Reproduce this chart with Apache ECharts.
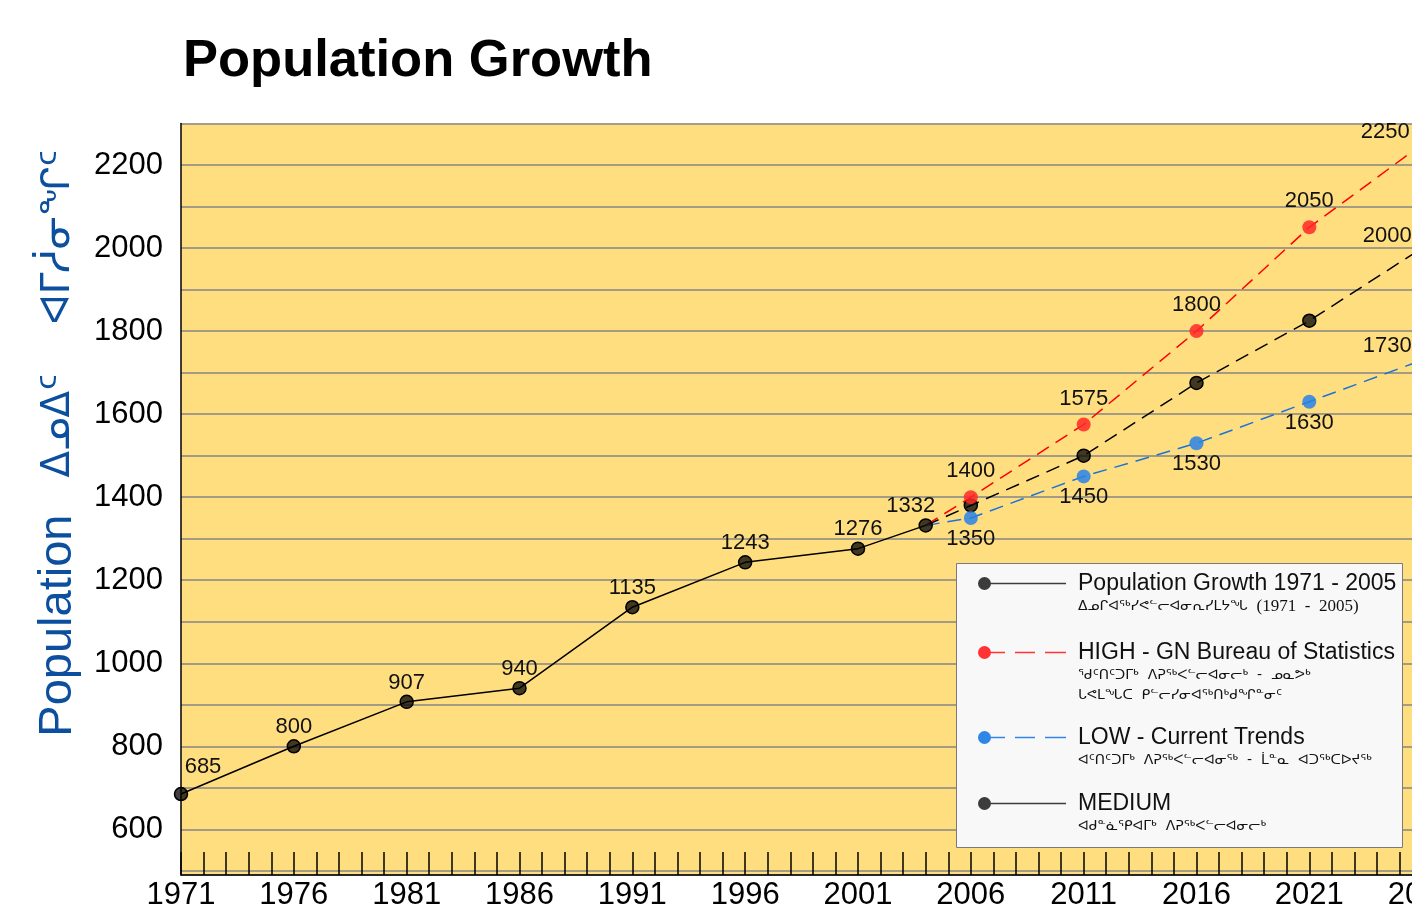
<!DOCTYPE html>
<html>
<head>
<meta charset="utf-8">
<title>Population Growth</title>
<script src="https://cdn.jsdelivr.net/npm/echarts@6/dist/echarts.min.js"></script>
<style>
    html, body { margin: 0; padding: 0; background: #fff; }
    #chart { width: 1412px; height: 921px; }
</style>
</head>
<body>
<div id="chart"></div>
<script>
    // census years + values (1971 - 2004)
    var years = [1971, 1976, 1981, 1986, 1991, 1996, 2001, 2004];
    var population = [685, 800, 907, 940, 1135, 1243, 1276, 1332];

    // projections start from the last census point
    var projYears = [2004, 2006, 2011, 2016, 2021, 2026];
    var highValues = [1332, 1400, 1575, 1800, 2050, 2250];
    var mediumValues = [1332, 1380, 1500, 1675, 1825, 2000];
    var lowValues = [1332, 1350, 1450, 1530, 1630, 1730];

    var seriesNames = [
        'Population Growth 1971 - 2005',
        'HIGH - GN Bureau of Statistics',
        'LOW - Current Trends',
        'MEDIUM'
    ];
    var seriesSubtitles = [
        ['ᐃᓄᒋᐊᖅᓯᕙᓪᓕᐊᓂᕆᓯᒪᔭᖓ  (1971  -  2005)'],
        ['ᖁᑦᑎᑦᑐᒥᒃ  ᐱᕈᖅᐸᓪᓕᐊᓂᓕᒃ  -  ᓄᓇᕗᒃ', 'ᒐᕙᒪᖓᑕ  ᑭᓪᓕᓯᓂᐊᖅᑎᒃᑯᖏᓐᓂᑦ'],
        ['ᐊᑦᑎᑦᑐᒥᒃ  ᐱᕈᖅᐸᓪᓕᐊᓂᖅ  -  ᒫᓐᓇ  ᐊᑐᖅᑕᐅᔪᖅ'],
        ['ᐊᑯᓐᓈᕿᐊᒥᒃ  ᐱᕈᖅᐸᓪᓕᐊᓂᓕᒃ']
    ];
    var chartTitle = 'Population Growth';
    var yAxisTitle = ['Population', 'ᐃᓄᐃᑦ', 'ᐊᒥᓲᓂᖏᑦ'];

    var latin = "'Liberation Sans', Arial, 'DejaVu Sans', sans-serif";
    var syll = "'DejaVu Sans', sans-serif";

    function pairs(xs, ys) {
        return xs.map(function (x, i) {
            return {value: [x, ys[i]]};
        });
    }

    var histData = pairs(years, population);
    histData[0].label = {offset: [22, -8]};
    histData[histData.length - 1].label = {offset: [-15, 0]};

    function projData(vals, lastLabel, showAll) {
        var d = pairs(projYears, vals);
        d[0].symbol = 'none';
        d[0].label = {show: false};
        if (!showAll) {
            for (var i = 1; i < d.length - 1; i++) d[i].label = {show: false};
        }
        d[d.length - 1].label = lastLabel;
        return d;
    }

    var solidIcon = 'path://M0,6.5A6.5,6.5,0,1,1,13,6.5A6.5,6.5,0,1,1,0,6.5ZM6.5,5.8L88,5.8L88,7.2L6.5,7.2Z';
    var dashIcon = 'path://M0,6.5A6.5,6.5,0,1,1,13,6.5A6.5,6.5,0,1,1,0,6.5ZM6.5,5.8L27,5.8L27,7.2L6.5,7.2Z' +
        'M37,5.8L57,5.8L57,7.2L37,7.2ZM67,5.8L88,5.8L88,7.2L67,7.2Z';

    var legendRows = [
        {mainY: 583, icon: solidIcon, color: '#3c3c3c'},
        {mainY: 652, icon: dashIcon, color: '#ff3333'},
        {mainY: 737, icon: dashIcon, color: '#2f86e6'},
        {mainY: 803, icon: solidIcon, color: '#3c3c3c'}
    ];

    var legends = legendRows.map(function (row, i) {
        var subH = seriesSubtitles[i].length * 20;
        return {
            left: 978,
            top: row.mainY - 11,
            orient: 'vertical',
            padding: 0,
            z: 6,
            selectedMode: false,
            itemWidth: 88,
            itemHeight: 13,
            data: [{name: seriesNames[i], icon: row.icon, itemStyle: {color: row.color, borderWidth: 0}}],
            formatter: function (name) {
                var subs = seriesSubtitles[i].map(function (s) {
                    var k = s.indexOf('(');
                    if (k > 0) return '{s|' + s.slice(0, k) + '}{n|' + s.slice(k) + '}';
                    return '{s|' + s + '}';
                });
                return '{m|' + name + '}\n' + subs.join('\n');
            },
            textStyle: {
                padding: [subH, 0, 0, 7],
                rich: {
                    m: {fontSize: 23, lineHeight: 26, color: '#111', fontFamily: latin},
                    s: {fontSize: 14, lineHeight: 20, color: '#111', fontFamily: syll},
                    n: {fontSize: 17, lineHeight: 20, color: '#111', fontFamily: "'Liberation Serif', serif"}
                }
            }
        };
    });

    var labelBase = {
        show: true,
        fontSize: 22,
        color: '#111',
        fontFamily: latin,
        formatter: function (p) {
            return p.value[1];
        }
    };

    var chart = echarts.init(document.getElementById('chart'));
    var option = {
        animation: false,
        backgroundColor: '#ffffff',
        title: {
            text: chartTitle,
            left: 178,
            top: 30,
            textStyle: {fontSize: 52.5, fontWeight: 'bold', color: '#000', fontFamily: latin}
        },
        legend: legends,
        graphic: [{
            type: 'rect',
            z: 5,
            shape: {x: 956.5, y: 563.5, width: 446, height: 284},
            style: {fill: '#f8f8f8', stroke: '#7a7a7a', lineWidth: 1}
        }],
        grid: {
            left: 181,
            top: 123.5,
            bottom: 46,
            width: 1354,
            outerBoundsMode: 'none',
            containLabel: false,
            show: true,
            backgroundColor: '#FFDE80',
            borderWidth: 0
        },
        xAxis: {
            type: 'value',
            min: 1971,
            max: 2031,
            interval: 1,
            axisLine: {lineStyle: {color: '#000', width: 1.5}},
            axisTick: {inside: true, length: 23, lineStyle: {color: '#000', width: 1.5}},
            axisLabel: {
                fontSize: 31,
                color: '#000',
                fontFamily: latin,
                margin: 5,
                formatter: function (v) {
                    return (v - 1971) % 5 === 0 ? String(v) : '';
                }
            },
            splitLine: {show: false}
        },
        yAxis: {
            type: 'value',
            min: 490,
            max: 2300,
            splitNumber: 18,
            name: '{a|' + yAxisTitle[0] + '}{b|   ' + yAxisTitle[1] + '    ' + yAxisTitle[2] + '}',
            nameLocation: 'middle',
            nameGap: 99,
            nameRotate: 90,
            nameTextStyle: {
                color: '#0B4F9E',
                padding: [0, 0, 0, 112],
                rich: {
                    a: {fontSize: 47, color: '#0B4F9E', fontFamily: latin},
                    b: {fontSize: 39, color: '#0B4F9E', fontFamily: syll}
                }
            },
            axisLine: {show: true, lineStyle: {color: '#000', width: 1.5}},
            axisTick: {show: false},
            axisLabel: {
                fontSize: 31,
                color: '#000',
                fontFamily: latin,
                margin: 18,
                showMinLabel: false,
                formatter: function (v) {
                    return (v % 200 === 0 && v >= 600) ? String(v) : '';
                }
            },
            splitLine: {lineStyle: {color: '#858585', width: 1.5}}
        },
        series: [
            {
                name: seriesNames[3],
                type: 'line',
                symbol: 'circle',
                symbolSize: 13,
                data: projData(mediumValues, {show: true, position: 'top', distance: 0, offset: [-35, 6]}, false),
                lineStyle: {color: '#000', width: 1.5, type: [14, 8]},
                itemStyle: {color: 'rgba(0,0,0,0.75)', borderColor: '#000', borderWidth: 1.5},
                label: labelBase
            },
            {
                name: seriesNames[1],
                type: 'line',
                symbol: 'circle',
                symbolSize: 14,
                data: projData(highValues, {offset: [-37, 14]}, true),
                lineStyle: {color: '#ff0000', width: 1.5, type: [14, 8]},
                itemStyle: {color: 'rgba(255,40,40,0.85)', borderWidth: 0},
                label: Object.assign({}, labelBase, {position: 'top', distance: 8})
            },
            {
                name: seriesNames[2],
                type: 'line',
                symbol: 'circle',
                symbolSize: 14,
                data: projData(lowValues, {position: 'top', distance: 0, offset: [-35, 4]}, true),
                lineStyle: {color: '#1a73d9', width: 1.5, type: [14, 8]},
                itemStyle: {color: 'rgba(40,130,230,0.85)', borderWidth: 0},
                label: Object.assign({}, labelBase, {position: 'bottom', distance: 3})
            },
            {
                name: seriesNames[0],
                type: 'line',
                symbol: 'circle',
                symbolSize: 13,
                data: histData,
                lineStyle: {color: '#000', width: 1.5},
                itemStyle: {color: 'rgba(0,0,0,0.75)', borderColor: '#000', borderWidth: 1.5},
                label: Object.assign({}, labelBase, {position: 'top', distance: 1})
            }
        ]
    };
    chart.setOption(option);
</script>
</body>
</html>
